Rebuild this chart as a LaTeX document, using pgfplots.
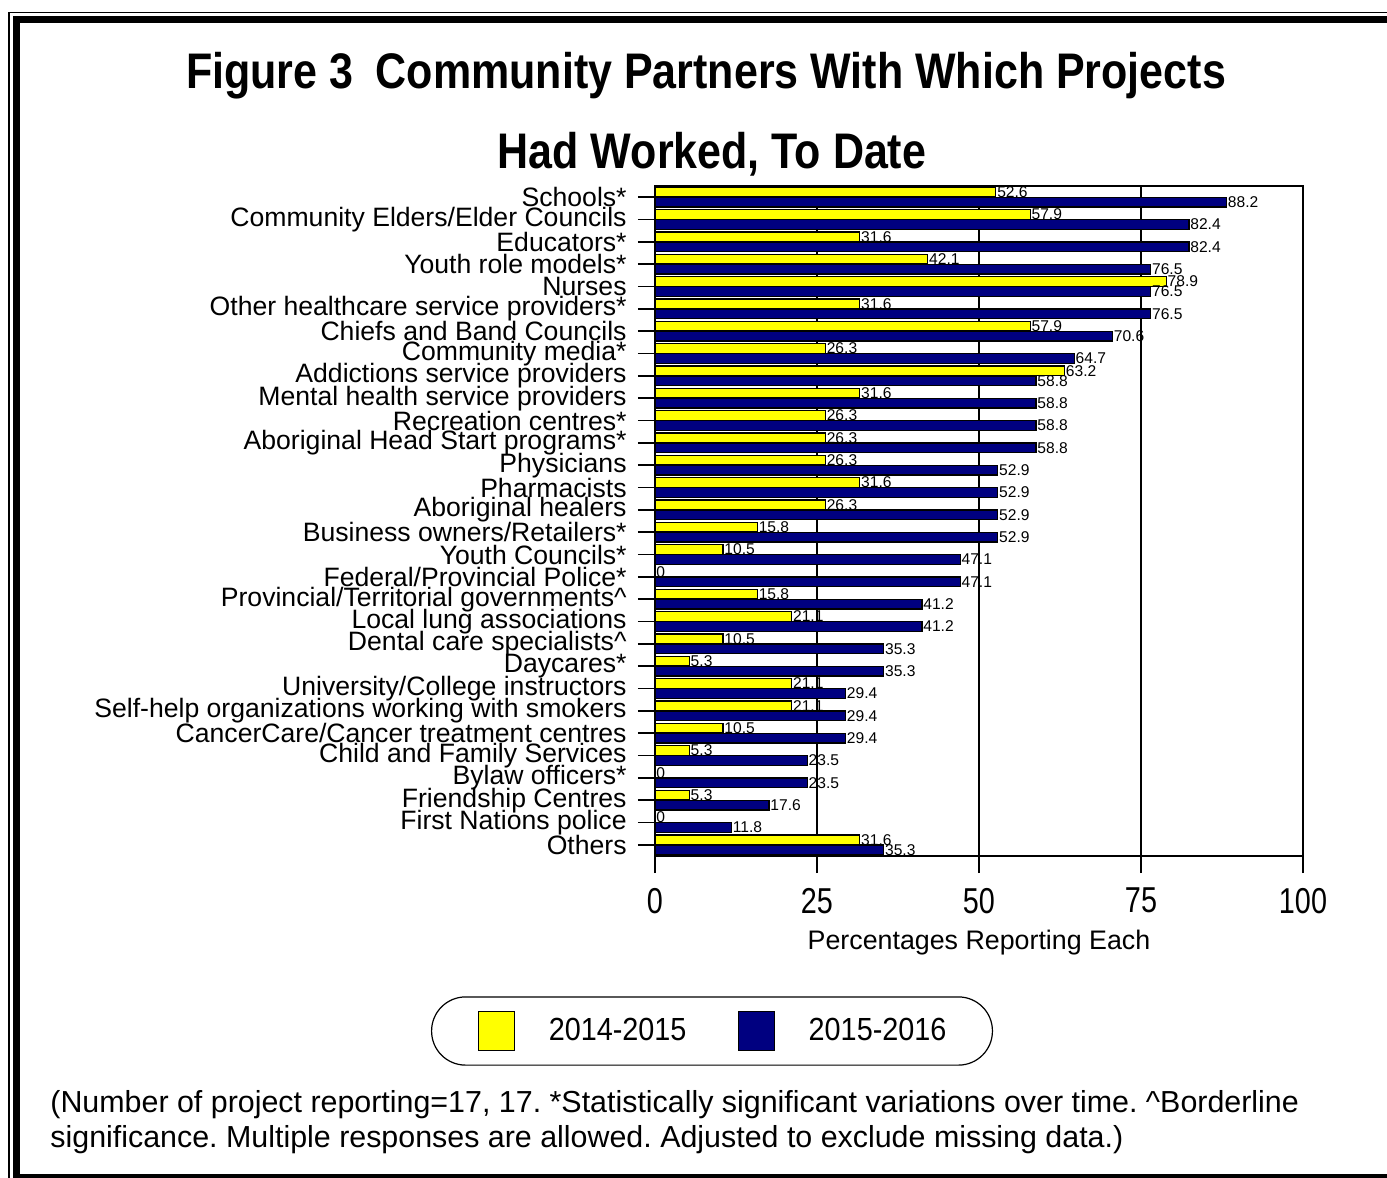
\documentclass[border=0pt]{standalone}
\usepackage{pgfplots}
\pgfplotsset{compat=1.18}
\usepackage{pgfplotstable}
\usepackage{fontspec}
\setmainfont{Liberation Sans}
\newfontfamily\titlefont[FakeStretch=0.86]{Liberation Sans}
\newfontfamily\tickfont[FakeStretch=0.8]{Liberation Sans}
\newfontfamily\legfont[FakeStretch=0.9]{Liberation Sans}
\definecolor{ylw}{RGB}{255,255,0}
\definecolor{navy}{RGB}{0,0,128}
\pgfplotsset{
  legyel/.style={legend image code/.code={\fill[ylw, draw=black, line width=0.6pt, sharp corners] (0pt,-9.75pt) rectangle (18pt,9.75pt);}},
  legnav/.style={legend image code/.code={\fill[navy, draw=black, line width=0.6pt, sharp corners] (0pt,-9.75pt) rectangle (18pt,9.75pt);}}
}
\frenchspacing

\pgfplotstableread{
idx y1415 y1516
1 52.6 88.2
2 57.9 82.4
3 31.6 82.4
4 42.1 76.5
5 78.9 76.5
6 31.6 76.5
7 57.9 70.6
8 26.3 64.7
9 63.2 58.8
10 31.6 58.8
11 26.3 58.8
12 26.3 58.8
13 26.3 52.9
14 31.6 52.9
15 26.3 52.9
16 15.8 52.9
17 10.5 47.1
18 0 47.1
19 15.8 41.2
20 21.1 41.2
21 10.5 35.3
22 5.3 35.3
23 21.1 29.4
24 21.1 29.4
25 10.5 29.4
26 5.3 23.5
27 0 23.5
28 5.3 17.6
29 0 11.8
30 31.6 35.3
}\data

\begin{document}
\begin{tikzpicture}
\useasboundingbox (0,0) rectangle (693.5pt,-589pt);
% frame
\draw[line width=0.75pt] (693.5pt,-6.25pt) -- (4.6pt,-6.25pt) -- (4.6pt,-589pt);
\draw[line width=3.5pt] (693.5pt,-9.75pt) -- (8pt,-9.75pt) -- (8pt,-589pt);
\draw[line width=2pt] (8pt,-588pt) -- (693.5pt,-588pt);
% title
\node[anchor=base, inner sep=0pt, font=\titlefont\bfseries\fontsize{25}{30}\selectfont] at (353pt,-44pt) {Figure 3\hspace{0.45em}Community Partners With Which Projects};
\node[anchor=base, inner sep=0pt, font=\titlefont\bfseries\fontsize{25}{30}\selectfont] at (356pt,-84pt) {Had Worked, To Date};
% footnote
\node[anchor=base west, inner sep=0pt, font=\fontsize{15.2}{18}\selectfont] at (25pt,-556pt) {(Number of project reporting=17, 17. *Statistically significant variations over time. \textasciicircum Borderline};
\node[anchor=base west, inner sep=0pt, font=\fontsize{15.2}{18}\selectfont] at (25pt,-573.5pt) {significance. Multiple responses are allowed. Adjusted to exclude missing data.)};

\begin{axis}[
  at={(327.5pt,-428pt)}, anchor=south west,
  scale only axis, width=324pt, height=335pt,
  xbar, bar width=0.43,
  xmin=0, xmax=100, ymin=0.5, ymax=30.5, y dir=reverse,
  enlargelimits=false,
  xtick={0,25,50,75,100},
  ytick={1,...,30},
  yticklabels={Schools*, Community Elders/Elder Councils, Educators*, Youth role models*, Nurses, Other healthcare service providers*, Chiefs and Band Councils, Community media*, Addictions service providers, Mental health service providers, Recreation centres*, Aboriginal Head Start programs*, Physicians, Pharmacists, Aboriginal healers, Business owners/Retailers*, Youth Councils*, Federal/Provincial Police*, Provincial/Territorial governments\textasciicircum, Local lung associations, Dental care specialists\textasciicircum, Daycares*, University/College instructors, Self-help organizations working with smokers, CancerCare/Cancer treatment centres, Child and Family Services, Bylaw officers*, Friendship Centres, First Nations police, Others},
  tick align=outside, tick pos=left,
  major tick length=8.5pt,
  xmajorgrids, grid style={black, line width=0.7pt},
  axis line style={line width=0.7pt},
  tick style={black, line width=0.7pt},
  yticklabel style={font=\fontsize{13.3}{13.3}\selectfont, inner sep=0pt, xshift=-5.5pt},
  xticklabel style={font=\tickfont\fontsize{18}{18}\selectfont, yshift=-4pt},
  /pgf/number format/assume math mode=true,
  xlabel={Percentages Reporting Each},
  xlabel style={font=\fontsize{13.4}{13.4}\selectfont, yshift=-1.5pt},
  legend style={at={(0.088,-0.2612)}, anchor=center, draw=black, line width=0.6pt,
    rounded corners=17pt, inner xsep=23pt, inner ysep=7pt,
    font=\legfont\fontsize{16}{16}\selectfont, legend columns=2,
    nodes={inner sep=0pt}, column sep=17pt,
    /tikz/column 2/.style={column sep=25.5pt}},
  legend cell align=left,
  nodes near coords={\pgfmathprintnumber[fixed,precision=1]{\pgfplotspointmeta}},
  point meta=x,
  every node near coord/.append style={font=\fontsize{7.8}{7.8}\selectfont, anchor=west, inner sep=0.4pt, black},
]
\addplot[fill=ylw, draw=black, line width=0.6pt, bar shift=-0.225, legyel]
  table[x=y1415, y=idx]{\data};
\addplot[fill=navy, draw=black, line width=0.6pt, bar shift=0.225, legnav]
  table[x=y1516, y=idx]{\data};
\legend{2014-2015, 2015-2016}
\end{axis}
\end{tikzpicture}
\end{document}
